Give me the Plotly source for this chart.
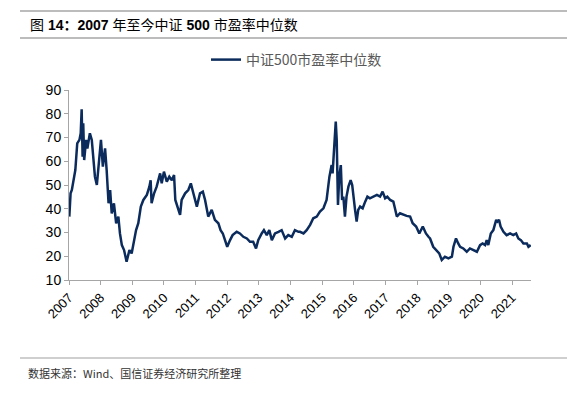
import plotly.graph_objects as go

# Decimal-year positions and median P/E values
t_year = [2007.01, 2007.05, 2007.09, 2007.14, 2007.20, 2007.26, 2007.33, 2007.37, 2007.40, 2007.43,
          2007.45, 2007.48, 2007.54, 2007.58, 2007.66, 2007.72, 2007.77, 2007.82, 2007.88, 2007.96,
          2008.01, 2008.07, 2008.14, 2008.19, 2008.25, 2008.30, 2008.35, 2008.42, 2008.49, 2008.56,
          2008.61, 2008.67, 2008.74, 2008.82, 2008.91, 2008.98, 2009.03, 2009.12, 2009.19, 2009.27,
          2009.35, 2009.46, 2009.54, 2009.58, 2009.61, 2009.69, 2009.77, 2009.88, 2009.93, 2010.00,
          2010.09, 2010.17, 2010.25, 2010.32, 2010.36, 2010.45, 2010.51, 2010.56, 2010.67, 2010.77,
          2010.85, 2010.93, 2011.04, 2011.14, 2011.23, 2011.30, 2011.40, 2011.51, 2011.61, 2011.72,
          2011.79, 2011.86, 2011.93, 2012.00, 2012.09, 2012.17, 2012.30, 2012.40, 2012.51, 2012.62,
          2012.72, 2012.82, 2012.91, 2012.98, 2013.09, 2013.16, 2013.25, 2013.33, 2013.41, 2013.51,
          2013.62, 2013.72, 2013.83, 2013.93, 2014.04, 2014.14, 2014.25, 2014.30, 2014.41, 2014.51,
          2014.62, 2014.72, 2014.83, 2014.93, 2015.04, 2015.14, 2015.23, 2015.30, 2015.33, 2015.38,
          2015.43, 2015.46, 2015.50, 2015.54, 2015.59, 2015.63, 2015.67, 2015.72, 2015.77, 2015.83,
          2015.90, 2015.95, 2015.99, 2016.04, 2016.09, 2016.14, 2016.20, 2016.28, 2016.36, 2016.43,
          2016.51, 2016.62, 2016.73, 2016.83, 2016.91, 2016.99, 2017.06, 2017.15, 2017.25, 2017.30,
          2017.36, 2017.46, 2017.57, 2017.67, 2017.78, 2017.86, 2017.97, 2018.07, 2018.18, 2018.28,
          2018.36, 2018.41, 2018.51, 2018.62, 2018.70, 2018.78, 2018.88, 2018.99, 2019.10, 2019.15,
          2019.23, 2019.30, 2019.36, 2019.46, 2019.57, 2019.67, 2019.78, 2019.89, 2019.99, 2020.07,
          2020.15, 2020.20, 2020.25, 2020.33, 2020.41, 2020.50, 2020.54, 2020.59, 2020.64, 2020.73,
          2020.83, 2020.94, 2021.04, 2021.13, 2021.20, 2021.28, 2021.36, 2021.47, 2021.52, 2021.59]

pe_median = [36.7, 46.5, 47.9, 52.0, 56.3, 67.5, 69.0, 71.8, 81.9, 61.9,
             76.0, 60.5, 69.0, 65.4, 71.8, 69.0, 62.0, 53.5, 50.0, 62.0,
             69.0, 57.7, 65.4, 56.3, 42.3, 47.9, 38.0, 42.3, 33.9, 36.7,
             29.6, 24.7, 22.6, 17.7, 22.6, 21.2, 25.4, 31.0, 33.9, 40.9,
             43.7, 45.8, 49.3, 52.0, 42.3, 46.5, 49.3, 54.9, 50.7, 55.6,
             51.4, 53.5, 52.0, 54.2, 43.7, 39.5, 37.4, 43.7, 46.5, 47.9,
             50.7, 46.5, 40.9, 46.5, 47.2, 43.7, 36.7, 39.5, 35.3, 33.9,
             31.0, 29.6, 26.8, 24.0, 26.8, 28.9, 30.3, 29.6, 28.2, 27.5,
             26.1, 26.1, 23.3, 26.8, 29.6, 31.0, 28.9, 31.0, 26.8, 29.6,
             30.3, 31.0, 27.5, 28.9, 28.2, 31.0, 30.3, 30.3, 29.6, 31.0,
             33.2, 36.0, 36.7, 38.8, 40.2, 43.7, 53.5, 58.4, 54.9, 69.0,
             76.7, 69.0, 41.6, 53.5, 58.4, 43.7, 45.1, 36.7, 45.1, 49.3,
             52.0, 50.0, 43.7, 39.5, 34.6, 39.5, 40.9, 40.2, 43.0, 45.1,
             44.4, 45.1, 45.8, 45.1, 47.2, 44.4, 45.1, 43.7, 43.0, 40.2,
             36.7, 38.1, 37.4, 37.0, 36.7, 33.9, 32.5, 29.6, 32.5, 29.6,
             28.2, 27.5, 24.0, 22.6, 21.2, 18.4, 19.8, 19.1, 19.8, 24.0,
             27.5, 25.4, 24.0, 23.3, 21.9, 23.3, 22.6, 21.9, 24.7, 25.4,
             24.7, 26.8, 24.7, 29.6, 31.0, 35.3, 34.6, 35.3, 32.5, 30.3,
             28.9, 29.6, 28.9, 29.6, 27.5, 26.8, 25.4, 25.4, 24.0, 24.7]

year_ticks = list(range(2007, 2022))
year_labels = [str(y) for y in year_ticks]
y_ticks = [10, 20, 30, 40, 50, 60, 70, 80, 90]

series_name = "中证500市盈率中位数"
title_text = "图 <b>14：2007</b> 年至今中证 <b>500</b> 市盈率中位数"
source_text = "数据来源：Wind、国信证券经济研究所整理"

LAT = "Liberation Sans, Arial, Noto Sans CJK SC, sans-serif"
CJK = "Noto Sans CJK SC, sans-serif"

fig = go.Figure()
fig.add_trace(go.Scatter(
    x=t_year, y=pe_median, mode="lines", name=series_name,
    line=dict(color="#0B2B5C", width=2.5),
))

# plot area: x 69..531, y 90..280 px
L, R, T, B = 69, 36, 90, 116
W, H = 567, 396
pw, ph = W - L - R, H - T - B

def px_x(px):
    return (px - L) / pw

def px_y(py):
    return (H - B - py) / ph

fig.update_layout(
    template="none",
    width=W, height=H,
    margin=dict(l=L, r=R, t=T, b=B, pad=0, autoexpand=False),
    paper_bgcolor="white", plot_bgcolor="white",
    showlegend=True,
    legend=dict(
        orientation="h", x=px_x(206), xanchor="left", y=px_y(60), yanchor="middle",
        font=dict(family=CJK, size=14, color="#595959"),
        bgcolor="rgba(0,0,0,0)", borderwidth=0,
    ),
    xaxis=dict(
        range=[2007, 2021.6], tickmode="array", tickvals=year_ticks, ticktext=year_labels,
        tickangle=-45, showgrid=False, zeroline=False, automargin=False,
        showline=True, linecolor="#A6A6A6", linewidth=1,
        ticks="outside", ticklen=4, tickcolor="#A6A6A6",
        tickfont=dict(family=LAT, size=13, color="#000000"),
    ),
    yaxis=dict(
        range=[10, 90], tickmode="array", tickvals=y_ticks,
        showgrid=False, zeroline=False, automargin=False,
        showline=True, linecolor="#A6A6A6", linewidth=1,
        ticks="outside", ticklen=4, tickcolor="#A6A6A6",
        tickfont=dict(family=LAT, size=14, color="#000000"),
    ),
    shapes=[
        dict(type="line", xref="paper", yref="paper", x0=px_x(20), x1=px_x(567),
             y0=px_y(11), y1=px_y(11), line=dict(color="#A6A6A6", width=1.5)),
        dict(type="line", xref="paper", yref="paper", x0=px_x(20), x1=px_x(567),
             y0=px_y(38), y1=px_y(38), line=dict(color="#A6A6A6", width=1.5)),
        dict(type="line", xref="paper", yref="paper", x0=px_x(20), x1=px_x(567),
             y0=px_y(358), y1=px_y(358), line=dict(color="#BFBFBF", width=1.5)),
    ],
    annotations=[
        dict(text=title_text, xref="paper", yref="paper", x=px_x(28), y=px_y(25),
             xanchor="left", yanchor="middle", showarrow=False,
             font=dict(family=LAT, size=14, color="#000000")),
        dict(text=source_text, xref="paper", yref="paper", x=px_x(26), y=px_y(373),
             xanchor="left", yanchor="middle", showarrow=False,
             font=dict(family=CJK, size=11, color="#333333")),
    ],
)

fig.write_html(
    "out.html",
    config={"displayModeBar": False, "staticPlot": True},
    post_script="document.body.style.margin='0';document.body.style.overflow='hidden';",
)
